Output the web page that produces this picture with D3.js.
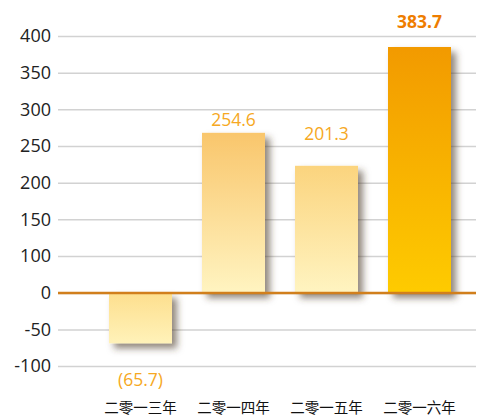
<html>
<head>
    <meta charset="utf-8">
    <script src="https://d3js.org/d3.v7.min.js"></script>
    <style>
        body { margin: 0; background: white; }
        text { font-family: "Open Sans", "Noto Sans", sans-serif; }
    </style>
</head>

<body>
    <svg id="chart"></svg>

    <script>
        // data
        var years = ["二零一三年", "二零一四年", "二零一五年", "二零一六年"];
        var barValues = [-69, 268, 223, 385];
        var valueLabels = ["(65.7)", "254.6", "201.3", "383.7"];
        var labelOffsets = [-43, 7, 26, 19];
        var yTicks = [400, 350, 300, 250, 200, 150, 100, 0, -50, -100];

        // styles
        var topColors = ["#fddf8e", "#f9c66c", "#fbd47e", "#f29a00"];
        var bottomColors = ["#fff2b9", "#fff4c1", "#fff4c1", "#fecb00"];
        var labelColors = ["#f6a823", "#f6a823", "#f6a823", "#ee7d00"];

        var W = 478, H = 420;
        var left = 58, right = 476;

        var svg = d3.select("#chart").attr("width", W).attr("height", H);

        // axis is not linear: the 0..100 step takes the same room as a 50 step
        var y = d3.scaleLinear()
            .domain([-100, 0, 100, 400])
            .range([366, 293, 256, 36]);

        var x = d3.scaleBand()
            .domain(years)
            .range([94, 466])
            .paddingInner(30/93)
            .paddingOuter(15/93);

        var defs = svg.append("defs");

        var shadow = defs.append("filter").attr("id", "shadow")
            .attr("x", "-20%").attr("y", "-20%").attr("width", "150%").attr("height", "150%");
        shadow.append("feDropShadow")
            .attr("dx", 5).attr("dy", 5).attr("stdDeviation", 3.5)
            .attr("flood-color", "#4a3826").attr("flood-opacity", 0.6);

        years.forEach(function(d, i)
        {
            var g = defs.append("linearGradient").attr("id", "grad" + i)
                .attr("x1", 0).attr("y1", 0).attr("x2", 0).attr("y2", 1);
            g.append("stop").attr("offset", "0%").attr("stop-color", topColors[i]);
            g.append("stop").attr("offset", "100%").attr("stop-color", bottomColors[i]);
        });

        var yAxis = svg.append("g")
            .attr("transform", "translate(" + left + ",0)")
            .call(d3.axisLeft(y)
                .tickValues(yTicks)
                .tickSize(-(right - left))
                .tickPadding(7)
                .tickFormat(function(d){ return d; }));
        yAxis.select(".domain").remove();
        yAxis.selectAll(".tick line").attr("stroke", "#d2d2d2").attr("stroke-width", 1.5);
        yAxis.selectAll(".tick text")
            .attr("fill", "#222")
            .style("font-size", "18px")
            .style("font-family", "'Open Sans', sans-serif");

        var bars = svg.selectAll(".bar")
            .data(barValues)
            .enter()
            .append("rect").classed("bar", true)
            .attr("x", function(d, i){ return x(years[i]); })
            .attr("width", x.bandwidth())
            .attr("y", function(d){ return Math.min(y(d), y(0)); })
            .attr("height", function(d){ return Math.abs(y(d) - y(0)); })
            .attr("fill", function(d, i){ return "url(#grad" + i + ")"; })
            .attr("filter", "url(#shadow)");

        svg.append("line")
            .attr("x1", left).attr("x2", right)
            .attr("y1", y(0)).attr("y2", y(0))
            .attr("stroke", "#d17f1c").attr("stroke-width", 2.5);

        svg.selectAll(".vlabel")
            .data(valueLabels)
            .enter()
            .append("text").classed("vlabel", true)
            .attr("x", function(d, i){ return x(years[i]) + x.bandwidth()/2; })
            .attr("y", function(d, i){ return y(barValues[i]) - labelOffsets[i]; })
            .attr("text-anchor", "middle")
            .attr("fill", function(d, i){ return labelColors[i]; })
            .style("font-size", "17.5px")
            .style("font-weight", function(d, i){ return i == 3 ? "bold" : "normal"; })
            .text(function(d){ return d; });

        svg.selectAll(".xlabel")
            .data(years)
            .enter()
            .append("text").classed("xlabel", true)
            .attr("x", function(d){ return x(d) + x.bandwidth()/2; })
            .attr("y", 413)
            .attr("text-anchor", "middle")
            .attr("fill", "#111")
            .style("font-size", "14.5px")
            .style("font-family", "'Noto Sans CJK SC', sans-serif")
            .text(function(d){ return d; });
    </script>
</body>
</html>
